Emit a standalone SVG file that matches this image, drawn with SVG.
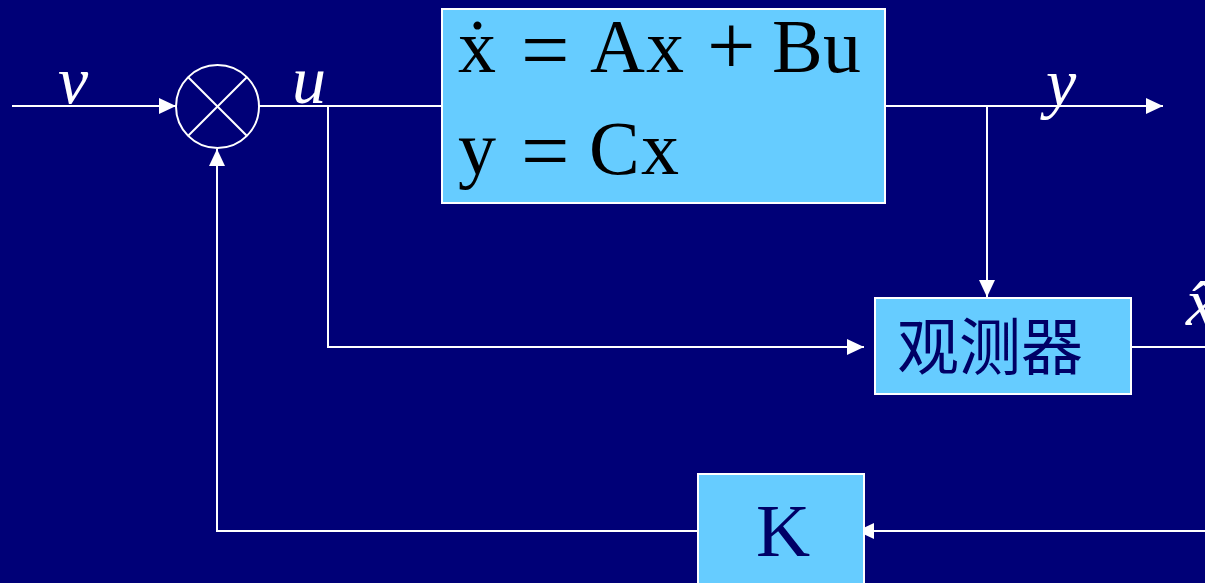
<svg xmlns="http://www.w3.org/2000/svg" width="1205" height="583" viewBox="0 0 1205 583">
<defs>
<marker id="arr" markerUnits="userSpaceOnUse" markerWidth="18" markerHeight="18" refX="17" refY="9" orient="auto">
<path d="M0,1 L17,9 L0,17 z" fill="#ffffff"/>
</marker>
<style>
.ln{stroke:#ffffff;stroke-width:2;fill:none}
.box{fill:#66CCFF;stroke:#ffffff;stroke-width:2}
.eq{font-family:"Liberation Serif","DejaVu Serif",serif;font-size:76px;fill:#000000}
.op{font-family:"Liberation Serif","DejaVu Serif",serif;font-size:86px;fill:#000000}
.lab{font-family:"Liberation Serif","DejaVu Serif",serif;font-style:italic;font-size:68px;fill:#ffffff}
.blk{fill:#000066}
</style>
</defs>
<rect width="1205" height="583" fill="#000077"/>
<g id="connectors">
<line class="ln" x1="12" y1="106" x2="176" y2="106" marker-end="url(#arr)"/>
<line class="ln" x1="259" y1="106" x2="442" y2="106"/>
<polyline class="ln" points="328,106 328,347 864,347" marker-end="url(#arr)"/>
<line class="ln" x1="885" y1="106" x2="1163" y2="106" marker-end="url(#arr)"/>
<line class="ln" x1="987" y1="106" x2="987" y2="297" marker-end="url(#arr)"/>
<line class="ln" x1="1131" y1="347" x2="1205" y2="347"/>
<line class="ln" x1="1205" y1="531" x2="857" y2="531" marker-end="url(#arr)"/>
<polyline class="ln" points="698,531 217,531 217,149" marker-end="url(#arr)"/>
</g>
<g id="sum">
<circle cx="217.5" cy="106.5" r="41.5" class="ln"/>
<line class="ln" x1="188.2" y1="77.2" x2="246.8" y2="135.8"/>
<line class="ln" x1="246.8" y1="77.2" x2="188.2" y2="135.8"/>
</g>
<g id="plant">
<rect class="box" x="442" y="9" width="443" height="194"/>
<text class="eq" y="72"><tspan x="458">ẋ</tspan><tspan x="590">A</tspan><tspan x="646">x</tspan><tspan x="772">B</tspan><tspan x="823">u</tspan></text>
<text class="op" x="521" y="79">=</text>
<text class="op" x="707" y="75">+</text>
<text class="eq" y="174"><tspan x="458">y</tspan><tspan x="589">C</tspan><tspan x="641">x</tspan></text>
<text class="op" x="521" y="180">=</text>
</g>
<g id="observer">
<rect class="box" x="875" y="298" width="256" height="96"/>
<text x="897" y="370" font-family="'Noto Sans CJK SC',sans-serif" font-size="62" class="blk">观测器</text>
</g>
<g id="gain">
<rect class="box" x="698" y="474" width="166" height="115"/>
<text x="783" y="556" text-anchor="middle" font-family="'Liberation Serif',serif" font-size="75" class="blk">K</text>
</g>
<g id="labels">
<text class="lab" x="58" y="103">v</text>
<text class="lab" x="292" y="103">u</text>
<text class="lab" x="1046" y="106">y</text>
<text class="lab" x="1186" y="325">x̂</text>
</g>
</svg>
